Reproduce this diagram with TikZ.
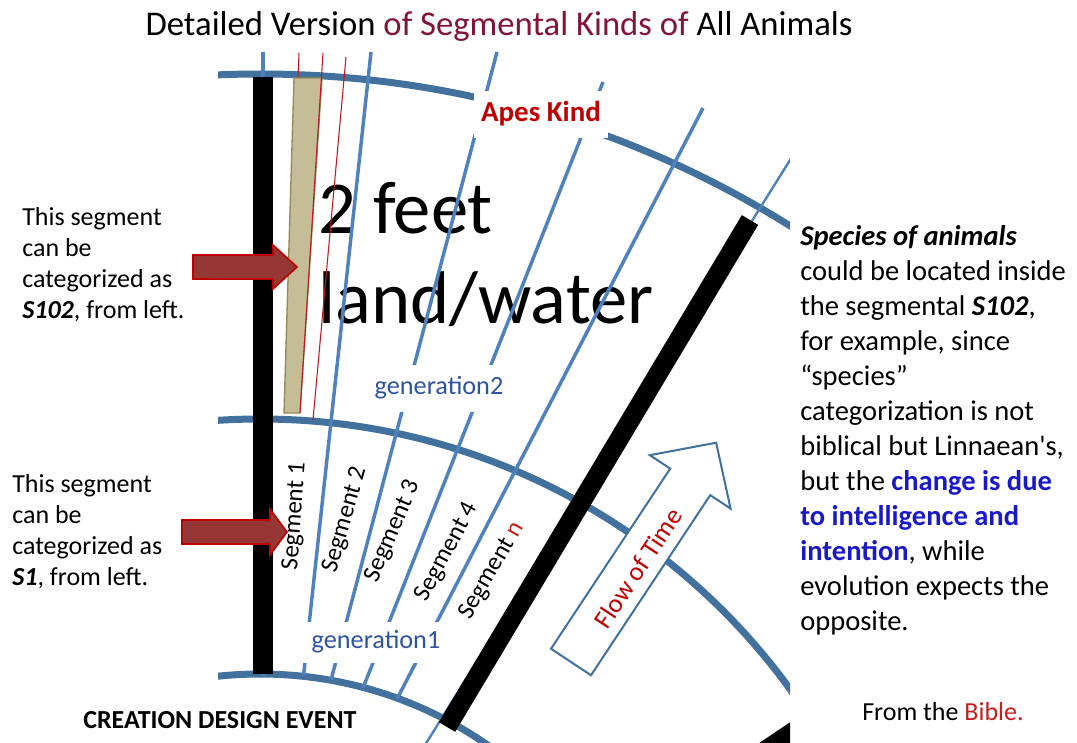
\documentclass[tikz,border=0pt]{standalone}
\usepackage{fontspec}
\setmainfont{Carlito}
\definecolor{arcblue}{RGB}{65,113,156}
\definecolor{lineblue}{RGB}{79,129,189}
\definecolor{genblue}{RGB}{46,84,160}
\definecolor{titlered}{RGB}{130,20,60}
\definecolor{kindred}{RGB}{192,0,0}
\definecolor{thinred}{RGB}{200,20,30}
\definecolor{tanfill}{RGB}{196,189,151}
\definecolor{tanedge}{RGB}{148,138,84}
\definecolor{arrowfill}{RGB}{149,55,53}
\definecolor{boldblue}{RGB}{25,25,200}
\definecolor{biblered}{RGB}{200,30,30}
\usepackage{tikz}

\tikzset{
    arcline/.style={draw=arcblue, line width=5.25pt},
    segline/.style={draw=lineblue, line width=2.6pt},
    thinline/.style={draw=thinred, line width=0.8pt},
    blackbar/.style={draw=black, line width=15pt},
    whitebox/.style={fill=white, inner sep=0pt, minimum height=35.25pt},
    blockarrow/.style={fill=arrowfill, draw=kindred, line width=1.2pt},
    plain/.style={inner sep=0pt, align=flush left, text width=8cm, anchor=base west},
    sidefont/.style={font=\fontsize{19.5}{23.25}\selectfont},
    notefont/.style={font=\fontsize{21.4}{26.25}\selectfont},
    seglabel/.style={inner sep=0pt, font=\fontsize{18.8}{22}\selectfont},
    genlabel/.style={whitebox, text=genblue, font=\fontsize{19.7}{23}\selectfont}
}

\begin{document}
\begin{tikzpicture}[x=0.75pt, y=-0.75pt]
    \useasboundingbox (0,0) rectangle (1077,742);
    \node[anchor=base, inner sep=0pt, font=\fontsize{26}{31}\selectfont] (title) at (499,36)
        {Detailed Version \textcolor{titlered}{of Segmental Kinds of} All Animals};

    \begin{scope}
        \clip (218,50) rectangle (790,742);
        \coordinate (hub) at (260,1074);
        \foreach \r in {750,491.25,300}
            \draw[arcline] (hub) circle [radius=\r pt];
        \node[plain, text width=12cm, font=\fontsize{56}{67.5}\selectfont] (habitat) at (318,233)
            {2 feet\\land/water};
        \foreach \xa/\ya/\xb/\yb in {263/52/263/676, 371/52/303.5/676, 497/52/331/680, 603/82/363/688, 703/108/397/699}
            \draw[segline] (\xa,\ya) -- (\xb,\yb);
        \draw[segline, line width=1.8pt] (810,128) -- (420,753);
        \draw[thinline] (299,53) -- (285,412);
        \draw[fill=tanfill, draw=tanedge, line width=1pt] (294,78) -- (322,78) -- (300,413) -- (284,413) -- cycle;
        \draw[thinline] (323,53) -- (300,413);
        \draw[thinline] (346,57) -- (313,420);
        \draw[blackbar] (263,77) -- (263,674);
        \draw[blackbar, line width=14.25pt] (447,727) -- (750,220);
        \draw[blackbar] (740,768) -- (1000,593);
        \node[whitebox, minimum width=100.5pt, text=kindred, font=\bfseries\fontsize{21.7}{26}\selectfont] (kind) at (541,114) {Apes Kind};
        \node[genlabel, minimum width=106.5pt] (gen2) at (439,388) {generation2};
        \node[genlabel, minimum width=111pt, minimum height=30.75pt] (gen1) at (376,642) {generation1};
        \begin{scope}[shift={(571,662)}, rotate=56.5]
            \draw[fill=white, draw=arcblue, line width=1.5pt] (0,-24) -- (216,-24) -- (216,-48.4) -- (263,0)
                -- (216,48.4) -- (216,24) -- (0,24) -- cycle;
        \end{scope}
    \end{scope}

    \node[rotate=56.5, inner sep=0pt, text=kindred, font=\fontsize{19.8}{23}\selectfont] (flow) at (638,568) {Flow of Time};
    \foreach \n/\x/\y/\a/\t in {1/295/516/86/Segment 1, 2/345/520/74/Segment 2, 3/393/531/67/Segment 3, 4/447/552/62/Segment 4, n/492/571/60/{Segment \textcolor{biblered}{n}}}
        \node[seglabel, rotate=\a] (seg\n) at (\x,\y) {\t};

    \foreach \xs/\xh/\xt/\yc/\hh in {193/273/297/267/22, 182/270/287/532/23}
        \draw[blockarrow] (\xs,\yc-12) -- (\xh,\yc-12) -- (\xh,\yc-\hh) -- (\xt,\yc) -- (\xh,\yc+\hh)
            -- (\xh,\yc+12) -- (\xs,\yc+12) -- cycle;

    \node[plain, sidefont] (upper) at (22,225) {This segment\\can be\\categorized as\\\textbf{\textit{S102}}, from left.};
    \node[plain, sidefont] (lower) at (12,492) {This segment\\can be\\categorized as\\\textbf{\textit{S1}}, from left.};
    \node[plain, notefont] (note) at (800,245) {\textbf{\textit{Species of animals}}\\could be located inside\\the segmental \textbf{\textit{S102}},\\for example, since\\“species”\\categorization is not\\biblical but Linnaean\textquotesingle s,\\but the \textcolor{boldblue}{\textbf{change is due}}\\\textcolor{boldblue}{\textbf{to intelligence and}}\\\textcolor{boldblue}{\textbf{intention}}, while\\evolution expects the\\opposite.};
    \node[plain, sidefont] (source) at (862,720) {From the \textcolor{biblered}{Bible.}};
    \node[plain, font=\bfseries\fontsize{19.5}{23.25}\selectfont] (event) at (83,728) {CREATION DESIGN EVENT};
\end{tikzpicture}
\end{document}
